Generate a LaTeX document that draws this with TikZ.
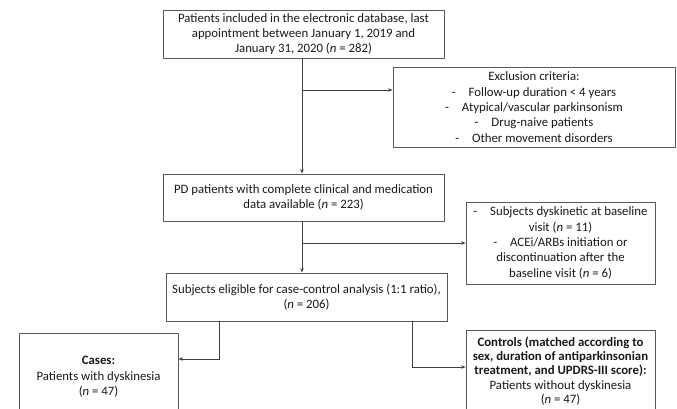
\documentclass[tikz,border=0pt]{standalone}
\usepackage{fontspec}
\setmainfont{Carlito}
\usetikzlibrary{arrows.meta}
\begin{document}
\begin{tikzpicture}[x=1pt,y=-1pt,
  box/.style={draw=black!65, line width=0.8pt, align=center, inner sep=0pt,
    font=\fontsize{12.8}{15.4}\selectfont, text=black!90},
  conn/.style={draw=black!75, line width=0.8pt},
  arr/.style={conn, -{Stealth[length=4.5pt,width=3.5pt]}}]
\useasboundingbox (0,0) rectangle (677,408);
\clip (0,0) rectangle (677,408);
\node[box, minimum width=281pt, minimum height=48pt] (b1) at (303.5,34)
  {Patients included in the electronic database, last\\appointment between January 1, 2019 and\\January 31, 2020 (\textit{n} = 282)};
\node[box, minimum width=282pt, minimum height=80pt] (e1) at (534,107)
  {Exclusion criteria:\\-\quad Follow-up duration {\char"003C} 4 years\\-\quad Atypical/vascular parkinsonism\\-\quad Drug-naive patients\\-\quad Other movement disorders};
\node[box, minimum width=281pt, minimum height=47pt] (b2) at (303.5,197.5)
  {PD patients with complete clinical and medication\\data available (\textit{n} = 223)};
\node[box, minimum width=189pt, minimum height=82pt] (e2) at (560.5,243)
  {-\quad Subjects dyskinetic at baseline\\visit (\textit{n} = 11)\\-\quad ACEi/ARBs initiation or\\discontinuation after the\\baseline visit (\textit{n} = 6)};
\node[box, minimum width=281pt, minimum height=48pt] (b3) at (306.5,297)
  {Subjects eligible for case-control analysis (1:1 ratio),\\(\textit{n} = 206)};
\node[box, minimum width=159pt, minimum height=88pt] (ca) at (98.5,377)
  {\textbf{Cases:}\\Patients with dyskinesia\\(\textit{n} = 47)};
\node[box, minimum width=189pt, minimum height=82pt, font=\fontsize{12.8}{14.4}\selectfont] (co) at (560.5,371)
  {\textbf{Controls (matched according to}\\\textbf{sex, duration of antiparkinsonian}\\\textbf{treatment, and UPDRS-III score):}\\Patients without dyskinesia\\(\textit{n} = 47)};
\coordinate (k1) at (302,90);
\coordinate (k2) at (302,243);
\coordinate (k3) at (219,359);
\coordinate (k4) at (412,367);
\draw[arr] (b1.south -| k1) -- (b2.north -| k1);
\draw[arr] (k1) -- (k1 -| e1.west);
\draw[arr] (b2.south -| k2) -- (b3.north -| k2);
\draw[arr] (k2) -- (e2.west);
\draw[arr] (b3.south -| k3) -- (k3) -- (k3 -| ca.east);
\draw[arr] (b3.south -| k4) -- (k4) -- (k4 -| co.west);
\end{tikzpicture}
\end{document}
